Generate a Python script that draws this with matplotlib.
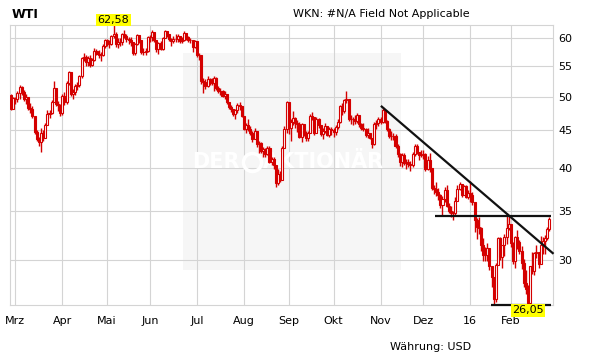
import matplotlib
matplotlib.use('Agg')
import matplotlib.pyplot as plt
from matplotlib.patches import Rectangle
from matplotlib.ticker import NullLocator
import pandas as pd

# Handelstage: 26.02.2015 - 26.02.2016 (NYMEX)
holidays = ['2015-04-03', '2015-05-25', '2015-07-03', '2015-09-07',
            '2015-11-26', '2015-12-25', '2016-01-01', '2016-01-18',
            '2016-02-15']
dates = pd.bdate_range('2015-02-26', '2016-02-26', freq='C', holidays=holidays)

month_labels = ['Mrz', 'Apr', 'Mai', 'Jun', 'Jul', 'Aug', 'Sep', 'Okt',
                'Nov', 'Dez', '16', 'Feb']
y_ticks = [30, 35, 40, 45, 50, 55, 60]

first_open = 50.3
closes = [
    48.17, 49.76,
    49.59, 50.52, 51.53, 50.76, 49.61, 50.00, 48.29, 48.17, 47.05, 44.84, 43.88,
    43.46, 44.66, 43.96, 45.72, 47.45, 47.51, 49.21, 51.43, 48.87, 48.68, 47.60,
    50.09, 49.14, 52.14, 53.98, 50.42, 50.79, 51.64, 51.91, 53.29, 56.39, 56.71,
    55.74, 56.38, 55.26, 56.16, 57.74, 57.15, 56.99, 57.06, 58.58, 59.63,
    59.15, 58.93, 60.40, 60.93, 58.94, 59.39, 59.25, 60.75, 60.50, 59.88, 59.69,
    59.43, 57.26, 58.98, 60.72, 59.72, 57.51, 57.51, 57.68, 60.30,
    60.20, 61.26, 59.64, 58.00, 59.13, 58.14, 60.14, 61.43, 60.77, 59.96, 59.52,
    59.97, 59.92, 60.45, 59.61, 59.68, 61.01, 60.27, 59.70, 59.63, 58.33, 59.47,
    56.96, 56.93, 52.53, 52.33, 51.65, 52.78, 52.74, 52.20, 53.04, 51.41, 50.91,
    50.89, 50.15, 50.36, 49.19, 48.45, 48.14, 47.39, 47.98, 48.79, 48.52, 47.12,
    45.17, 45.74, 45.15, 44.66, 43.87, 44.96, 43.08, 43.30, 42.23, 42.50, 41.87,
    42.62, 40.80, 41.14, 40.45, 38.24, 39.31, 38.60, 42.56, 45.22, 49.20,
    45.41, 46.25, 46.75, 46.05, 45.94, 44.15, 45.92, 44.63, 44.00, 44.59, 47.15,
    46.90, 44.68, 46.68, 45.83, 44.48, 44.91, 45.70, 44.43, 45.23, 45.09,
    44.74, 45.54, 46.26, 48.53, 47.81, 49.43, 49.63, 46.66, 46.66, 46.64, 46.38,
    47.26, 45.89, 45.29, 45.20, 44.38, 44.60, 43.98, 43.20, 45.94, 46.06, 46.59,
    46.14, 47.90, 46.32, 45.20, 44.29, 44.21, 44.21, 42.93, 41.75, 40.74, 41.74,
    40.67, 40.75, 40.54, 40.39, 41.75, 42.87, 42.04, 41.71, 41.65,
    41.85, 39.94, 41.08, 39.97, 37.65, 37.51, 37.16, 36.76, 35.62, 36.31, 37.35,
    35.52, 34.95, 34.73, 34.74, 36.14, 37.50, 38.10, 36.81, 37.87, 36.60, 37.04,
    36.76, 35.97, 33.97, 33.27, 33.16, 31.41, 30.44, 30.48, 31.20, 29.42, 28.46,
    26.55, 29.53, 32.19, 30.34, 31.45, 32.30, 33.22, 33.62,
    31.62, 29.88, 32.28, 31.72, 30.89, 29.69, 27.94, 27.45, 26.21, 29.44, 29.04,
    30.66, 30.77, 29.64, 31.48, 31.87, 32.15, 33.07, 34.10,
]
highs = [
    50.40, 50.00,
    50.00, 50.90, 51.80, 51.70, 51.10, 50.40, 50.00, 49.00, 48.60, 47.10, 45.00,
    44.10, 45.30, 45.00, 46.10, 47.90, 47.90, 49.50, 52.50, 51.20, 49.30, 48.90,
    50.40, 50.80, 52.50, 54.20, 54.00, 51.20, 52.10, 52.40, 53.60, 56.60, 57.40,
    57.00, 56.80, 56.90, 56.50, 58.30, 58.00, 57.90, 57.50, 58.90, 59.90,
    59.90, 59.70, 60.70, 62.58, 61.20, 60.00, 60.10, 61.10, 61.70, 60.80, 60.30,
    60.30, 59.40, 59.20, 60.90, 60.60, 59.60, 58.20, 58.20, 60.40,
    60.60, 61.60, 61.30, 59.80, 59.40, 59.60, 60.30, 61.70, 61.50, 60.80, 60.00,
    60.40, 60.90, 60.80, 60.40, 60.30, 61.40, 61.10, 60.40, 60.00, 59.40, 59.70,
    59.60, 57.30, 56.30, 53.10, 52.80, 53.30, 53.10, 53.00, 53.40, 53.20, 51.70,
    51.40, 51.00, 50.90, 50.40, 49.20, 48.70, 48.20, 48.20, 49.10, 49.20, 48.60,
    47.00, 46.00, 46.60, 45.60, 44.90, 45.30, 44.90, 43.60, 43.40, 42.80, 42.60,
    42.90, 42.90, 41.40, 41.40, 40.30, 39.90, 39.60, 42.90, 45.60, 49.40,
    49.00, 46.60, 47.80, 46.90, 46.50, 46.20, 46.10, 45.80, 44.90, 44.90, 47.40,
    47.70, 46.90, 46.90, 46.80, 45.80, 45.30, 46.00, 45.70, 45.50, 45.50,
    45.40, 45.80, 46.60, 48.80, 49.00, 49.70, 50.92, 49.70, 47.30, 47.00, 47.20,
    47.50, 47.20, 46.00, 46.10, 45.40, 45.40, 44.70, 44.00, 46.20, 46.50, 46.90,
    46.90, 48.40, 48.00, 46.50, 45.30, 44.90, 44.60, 44.50, 43.20, 41.90, 41.90,
    41.90, 41.20, 41.20, 40.90, 42.10, 43.20, 43.10, 42.00, 42.30,
    42.40, 42.00, 41.60, 42.00, 40.00, 38.00, 38.30, 37.60, 36.90, 36.70, 37.70,
    37.90, 35.90, 35.50, 35.00, 36.50, 37.90, 38.30, 38.10, 38.00, 38.00, 37.30,
    38.40, 37.10, 36.00, 34.20, 34.30, 33.30, 32.20, 31.30, 31.70, 30.90, 29.30,
    28.50, 29.70, 32.30, 32.30, 31.50, 32.60, 34.80, 34.40,
    33.60, 31.80, 32.40, 33.00, 32.00, 31.40, 30.10, 29.10, 27.80, 29.50, 30.80,
    30.80, 31.50, 30.80, 32.40, 32.30, 32.50, 33.30, 34.30,
]
lows = [
    47.90, 48.30,
    48.90, 49.20, 49.60, 50.30, 49.30, 48.90, 48.00, 47.60, 46.80, 44.50, 43.50,
    42.90, 42.03, 43.60, 43.90, 45.80, 46.80, 47.40, 49.20, 48.60, 47.80, 47.10,
    47.30, 48.80, 48.90, 51.80, 50.10, 49.70, 50.30, 51.00, 51.60, 53.10, 55.90,
    55.10, 55.00, 54.80, 55.00, 55.90, 56.90, 56.50, 56.00, 56.80, 58.30,
    58.60, 58.30, 58.70, 60.00, 58.50, 58.30, 58.60, 58.80, 60.10, 59.30, 59.00,
    58.60, 56.90, 57.00, 58.80, 59.10, 57.10, 57.00, 56.90, 57.60,
    59.30, 59.60, 59.30, 57.50, 57.10, 57.80, 57.90, 60.10, 60.30, 59.50, 58.60,
    59.20, 59.30, 59.30, 59.10, 59.20, 59.60, 59.80, 59.40, 59.10, 57.60, 58.30,
    56.60, 56.10, 52.00, 50.60, 51.30, 51.50, 51.90, 51.80, 50.90, 51.10, 50.60,
    50.30, 49.90, 49.60, 48.90, 48.10, 47.70, 47.10, 46.70, 47.50, 48.00, 46.90,
    45.00, 44.60, 44.90, 44.30, 43.40, 43.80, 42.80, 42.00, 41.90, 41.40, 41.40,
    41.70, 40.60, 40.40, 39.90, 37.75, 38.00, 38.30, 38.50, 42.70, 44.70,
    44.50, 43.60, 45.80, 45.30, 44.80, 43.90, 43.40, 44.20, 43.60, 43.60, 44.60,
    46.50, 44.30, 44.60, 45.30, 44.20, 43.80, 44.60, 44.20, 44.10, 44.30,
    44.10, 44.30, 45.20, 46.10, 47.30, 47.50, 49.10, 46.40, 45.90, 45.80, 45.90,
    46.00, 45.50, 45.00, 44.90, 44.10, 44.00, 43.80, 42.60, 43.00, 45.20, 45.60,
    45.90, 46.10, 46.10, 44.90, 43.90, 43.70, 43.70, 42.60, 41.40, 40.30, 40.20,
    40.40, 39.90, 40.20, 39.70, 40.20, 41.50, 41.80, 41.00, 41.40,
    41.10, 39.70, 39.80, 39.50, 37.30, 36.90, 36.70, 36.20, 35.30, 34.50, 36.00,
    35.40, 34.80, 34.30, 33.98, 34.60, 36.10, 37.40, 36.60, 36.80, 36.40, 36.30,
    36.00, 35.70, 32.80, 32.10, 32.60, 30.90, 29.90, 29.90, 29.90, 29.10, 27.60,
    26.19, 26.30, 29.60, 30.00, 29.30, 30.40, 31.60, 33.00,
    31.30, 29.60, 29.30, 31.10, 30.60, 29.20, 27.60, 27.00, 26.05, 26.40, 28.70,
    28.60, 30.20, 29.30, 29.90, 30.60, 30.60, 32.00, 32.90,
]
opens = [first_open] + closes[:-1]

# Trendlinien (Anfangs-/Endindex und Kurs)
trend_x = [173.15, 254.0]
trend_y = [48.6, 30.6]
resist_x = [198.5, 252.7]
resist_y = 34.4
support_x = [224.5, 252.7]
support_y = 26.05
price_max, price_min = 62.58, 26.05
idx_max, idx_min = 48, 242

red = '#d40000'
grid_c = '#d4d4d4'

fig = plt.figure(figsize=(6.11, 3.64), dpi=100)
W, H = 611, 364
ax = fig.add_axes([10 / W, (H - 305.3) / H, 542.7 / W, 280.3 / H])

n = len(closes)
x = list(range(n))
month_pos = [i for i in range(1, len(dates)) if dates[i].month != dates[i - 1].month]

# Hintergrund-Wasserzeichen
ax.add_patch(Rectangle((0.318, 0.126), 0.402, 0.775, transform=ax.transAxes,
                       facecolor='#f6f6f6', edgecolor='none', zorder=0.2))
ax.text(0.424, 0.512, 'DER', transform=ax.transAxes, color='white',
        fontsize=15, fontweight='bold', ha='right', va='center', zorder=1)
ax.plot([0.4454], [0.512], transform=ax.transAxes, marker='o', ms=13,
        mfc='none', mec='white', mew=2.5, zorder=1)
ax.text(0.466, 0.512, 'AKTIONÄR', transform=ax.transAxes, color='white',
        fontsize=15, fontweight='bold', ha='left', va='center', zorder=1)

# Kerzen
ax.vlines(x, lows, highs, color=red, lw=1.0, zorder=2)
for i in range(n):
    o, c = opens[i], closes[i]
    up = c >= o
    ax.bar(i, abs(c - o), bottom=min(o, c), width=0.95,
           facecolor='white' if up else red, edgecolor=red, lw=0.8, zorder=3)

# Trendlinien
ax.plot(trend_x, trend_y, color='#111111', lw=1.6, zorder=4, clip_on=False,
        solid_capstyle='butt')
ax.plot(resist_x, [resist_y, resist_y], color='#111111', lw=1.6, zorder=4,
        clip_on=False, solid_capstyle='butt')
ax.plot(support_x, [support_y, support_y], color='#111111', lw=1.6, zorder=4,
        clip_on=False, solid_capstyle='butt')

ax.set_yscale('log')
ax.set_ylim(price_min, price_max)
ax.set_xlim(-0.5, 253.6)
ax.set_yticks(y_ticks, [str(t) for t in y_ticks])
ax.yaxis.set_minor_locator(NullLocator())
ax.yaxis.tick_right()
ax.set_xticks(month_pos, month_labels)
ax.tick_params(axis='x', length=0, pad=8, labelsize=8)
ax.tick_params(axis='y', length=0, pad=4, labelsize=8)
ax.set_axisbelow(True)
ax.grid(True, color=grid_c, lw=0.8)
for s in ax.spines.values():
    s.set_color(grid_c)
    s.set_linewidth(0.8)

# Max/Min Markierungen
ax.text(idx_max, price_max, '62,58', ha='center', va='bottom', fontsize=8,
        bbox=dict(boxstyle='square,pad=0.12', facecolor='#ffff00', edgecolor='none'),
        zorder=5, clip_on=False)
ax.text(idx_min, price_min, '26,05', ha='center', va='top', fontsize=8,
        bbox=dict(boxstyle='square,pad=0.12', facecolor='#ffff00', edgecolor='none'),
        zorder=5, clip_on=False)

fig.text(12 / W, 1 - 14 / H, 'WTI', fontsize=9, fontweight='bold', va='center')
fig.text(293 / W, 1 - 14 / H, 'WKN: #N/A Field Not Applicable', fontsize=8,
         va='center')
fig.text(390 / W, 1 - 347 / H, 'Währung: USD', fontsize=8, va='center')

fig.savefig('out.png', dpi=100)
